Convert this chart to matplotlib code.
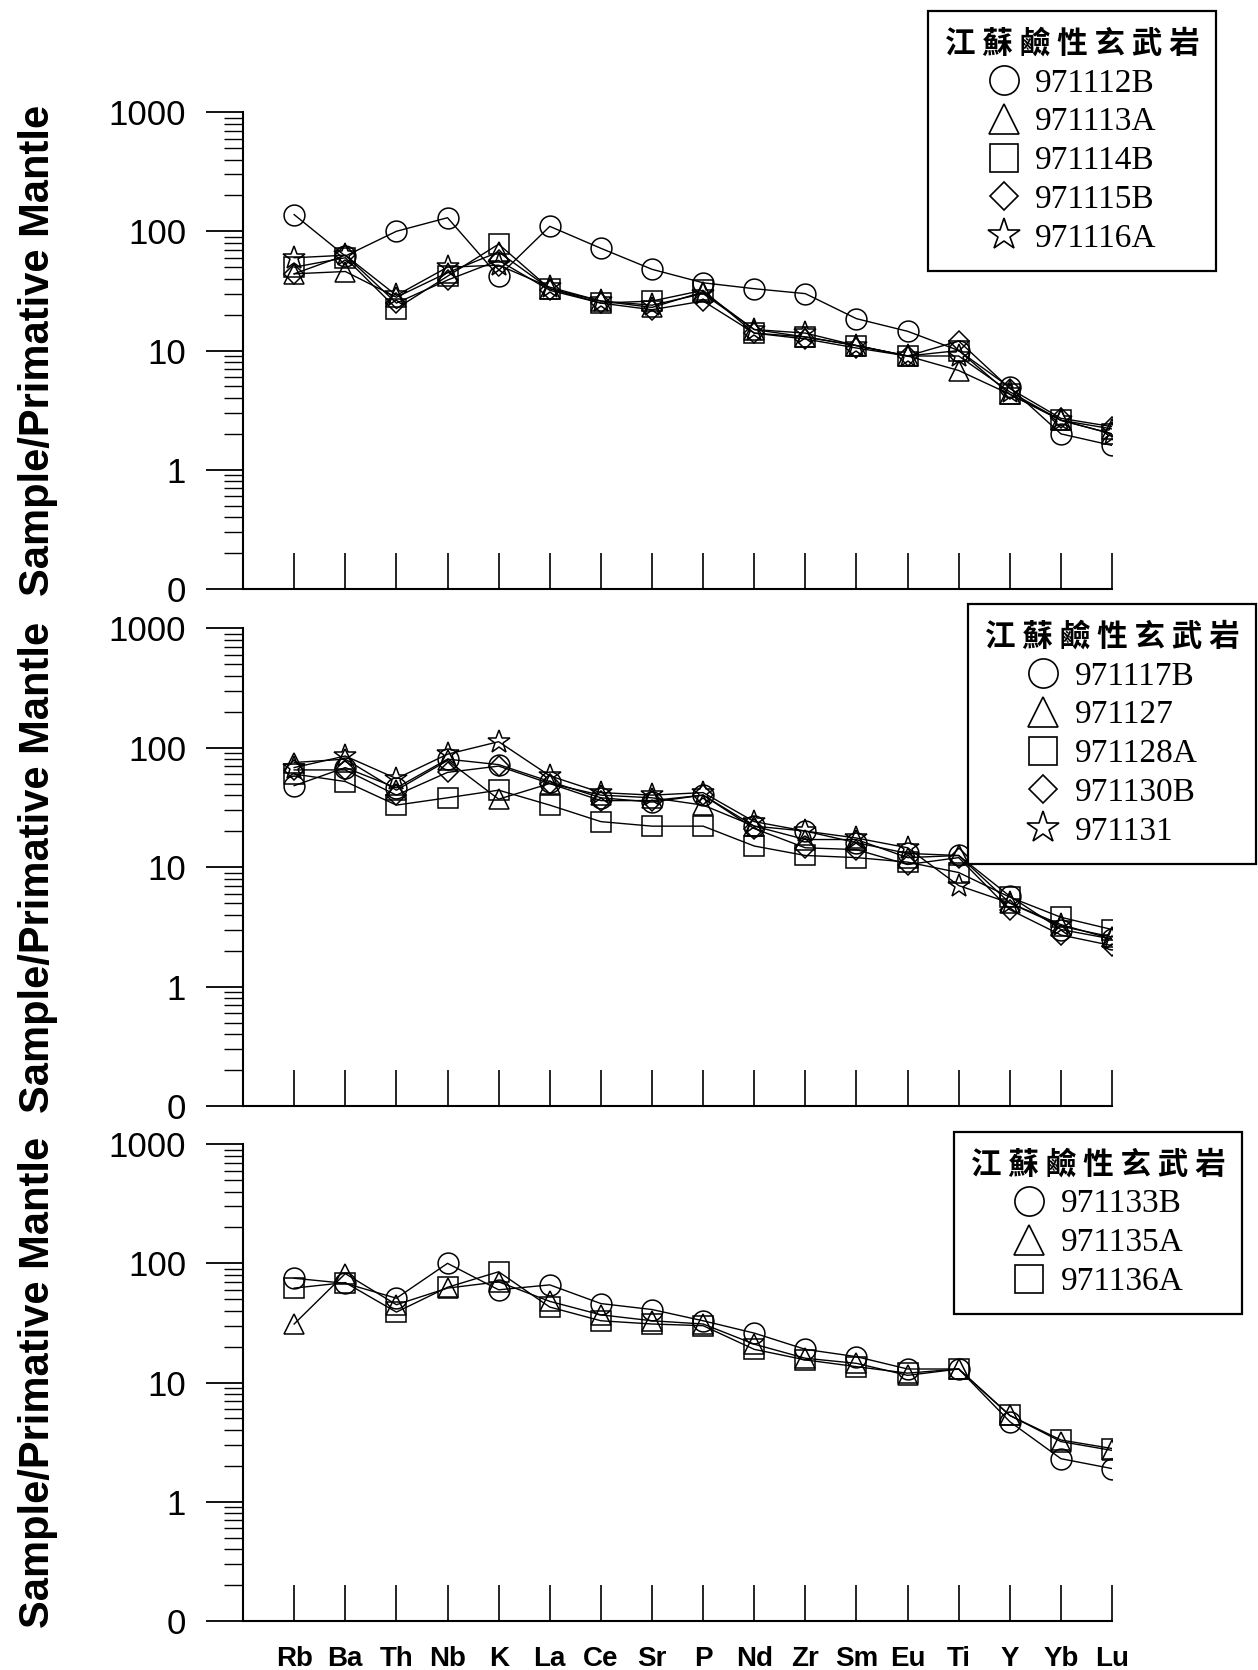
import matplotlib
matplotlib.use("Agg")
import matplotlib.pyplot as plt
from matplotlib.lines import Line2D
from matplotlib.ticker import LogLocator, NullFormatter

plt.rcParams['font.family'] = ['Liberation Sans', 'DejaVu Sans']

# trace elements (primitive mantle normalised spider diagram)
elements = ['Rb', 'Ba', 'Th', 'Nb', 'K', 'La', 'Ce', 'Sr', 'P', 'Nd',
            'Zr', 'Sm', 'Eu', 'Ti', 'Y', 'Yb', 'Lu']
legend_title = '江 蘇 鹼 性 玄 武 岩'

# panel 1
names_1 = ['971112B', '971113A', '971114B', '971115B', '971116A']
s971112B = [138, 62, 100, 130, 42, 110, 72, 48, 37, 33, 30, 18.5, 14.5, 10, 4.9, 2.0, 1.6]
s971113A = [44, 46, 28, 45, 67, 33, 26, 23, 31, 15, 13, 11, 9, 6.8, 4.3, 2.6, 2.2]
s971114B = [50, 60, 22.5, 42, 78, 33, 25, 26, 32, 14, 13, 11, 9, 10, 4.3, 2.6, 2.0]
s971115B = [44, 63, 25, 39, 57, 32, 25, 22, 26, 14, 12.5, 10.5, 9, 12, 4.8, 2.7, 2.3]
s971116A = [60, 63, 29, 50, 52, 34, 26, 24, 30, 15, 14, 11, 9, 9, 4.5, 2.6, 2.0]

# panel 2
names_2 = ['971117B', '971127', '971128A', '971130B', '971131']
s971117B = [48, 68, 46, 80, 72, 52, 38, 35, 40, 22, 20, 16, 13, 12.5, 5.7, 3.0, 2.5]
s971127 = [75, 80, 44, 78, 37, 50, 40, 38, 33, 22, 17, 17, 12, 12.5, 5.0, 3.2, 2.6]
s971128A = [60, 52, 33, 38, 44, 33, 24, 22, 22, 15, 12.5, 12, 11, 9, 5.6, 3.8, 3.0]
s971130B = [65, 65, 40, 62, 70, 50, 36, 36, 40, 21, 14.5, 14, 10.5, 12, 4.4, 2.7, 2.2]
s971131 = [68, 85, 55, 88, 112, 58, 42, 40, 42, 24, 20, 17.5, 14.5, 7, 5.0, 3.3, 2.5]

# panel 3
names_3 = ['971133B', '971135A', '971136A']
s971133B = [75, 68, 51, 100, 60, 66, 46, 41, 33, 26, 19, 16.5, 13, 13, 4.7, 2.3, 1.9]
s971135A = [31, 82, 45, 62, 70, 48, 37, 33, 31, 21, 16, 14.5, 11.5, 13, 5.3, 3.2, 2.7]
s971136A = [62, 69, 39, 63, 85, 43, 33, 31, 30, 19, 15.5, 13.6, 12, 13, 5.3, 3.3, 2.8]

markers = ['o', '^', 's', 'D', '*']
msizes = {'o': 15, '^': 15, 's': 14, 'D': 10.5, '*': 17}

panels = [
    ([s971112B, s971113A, s971114B, s971115B, s971116A], names_1,
     [0.1932, 0.6473, 0.6908, 0.2856], (1216, 11)),
    ([s971117B, s971127, s971128A, s971130B, s971131], names_2,
     [0.1932, 0.3377, 0.6908, 0.2862], (1256, 604)),
    ([s971133B, s971135A, s971136A], names_3,
     [0.1932, 0.0293, 0.6908, 0.2856], (1242, 1132)),
]

W, H = 1258, 1670
fig = plt.figure(figsize=(W / 100, H / 100), dpi=100)
x = list(range(len(elements)))

for i, (series, names, pos, legpos) in enumerate(panels):
    ax = fig.add_axes(pos)
    for vals, m in zip(series, markers):
        ax.plot(x, vals, color='k', lw=1.0, marker=m, ms=msizes[m],
                mfc='none', mec='k', mew=1.1)

    ax.set_yscale('log')
    ax.set_ylim(0.1, 1000)
    ax.set_xlim(-1, 16)
    ax.set_yticks([0.1, 1, 10, 100, 1000], ['0', '1', '10', '100', '1000'])
    ax.yaxis.set_minor_locator(LogLocator(base=10, subs=range(2, 10)))
    ax.yaxis.set_minor_formatter(NullFormatter())
    ax.tick_params(axis='y', which='major', direction='out', length=27,
                   width=1.3, pad=14, labelsize=25)
    ax.tick_params(axis='y', which='minor', direction='out', length=14, width=1.0)
    ax.set_xticks(x)
    ax.tick_params(axis='x', direction='in', length=26, width=1.2, pad=18)
    if i == 2:
        ax.set_xticklabels(elements, fontsize=20, fontweight='bold')
    else:
        ax.tick_params(axis='x', labelbottom=False)
    for s in ['top', 'right']:
        ax.spines[s].set_visible(False)
    for s in ['left', 'bottom']:
        ax.spines[s].set_linewidth(1.5)

    ax.set_ylabel('Sample/Primative Mantle', fontsize=30, fontweight='bold')
    ax.yaxis.set_label_coords(-0.213, 0.5)

    handles = [Line2D([], [], ls='none', marker=m, ms=msizes[m] * 1.4,
                      mfc='none', mec='k', mew=1.2)
               for m in markers[:len(names)]]
    leg = ax.legend(handles, names, title=legend_title, loc='upper right',
                    bbox_to_anchor=(legpos[0] / W, 1 - legpos[1] / H),
                    bbox_transform=fig.transFigure,
                    prop={'family': 'Liberation Serif', 'size': 24},
                    title_fontproperties={'family': ['Noto Sans CJK TC'],
                                          'size': 22, 'weight': 'bold'},
                    frameon=True, fancybox=False, framealpha=1,
                    edgecolor='k', borderpad=0.5, labelspacing=0.25,
                    handletextpad=0.45, handlelength=1.0, borderaxespad=0)
    leg.get_frame().set_linewidth(1.6)

fig.savefig('out.png', dpi=100)
